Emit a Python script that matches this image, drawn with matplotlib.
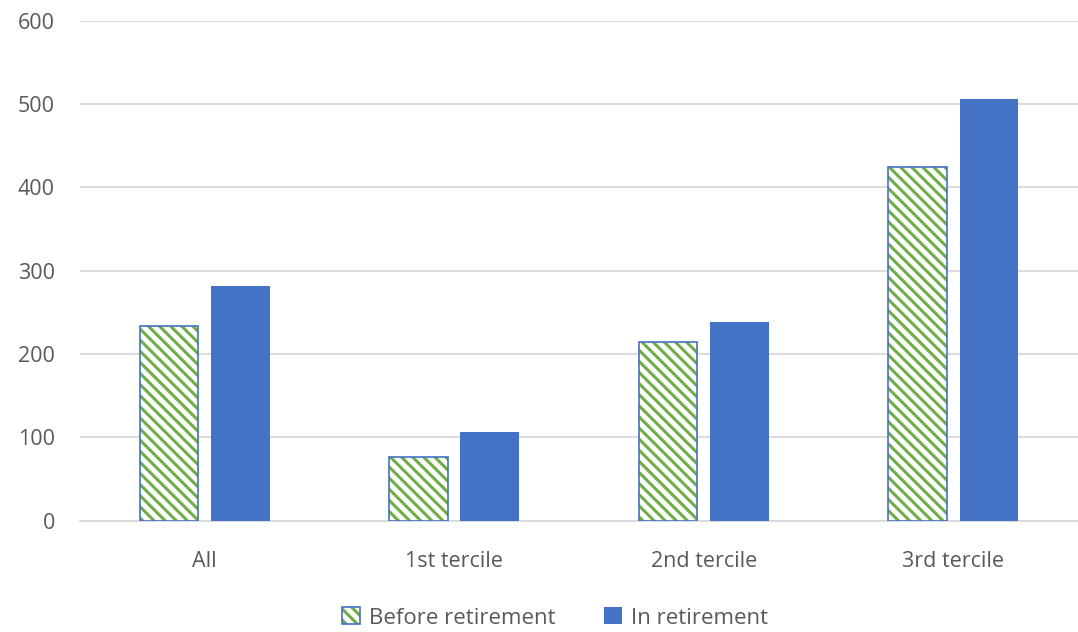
import numpy as np
import matplotlib.pyplot as plt

plt.rcParams['font.family'] = ['Open Sans', 'DejaVu Sans']
plt.rcParams['hatch.linewidth'] = 2.2

categories = ["All", "1st tercile", "2nd tercile", "3rd tercile"]
before = [234, 76, 214, 424]
inret = [282, 107, 238, 506]

GREEN = '#70AD47'
BLUE = '#4472C4'
TXT = '#595959'

fig = plt.figure(figsize=(10.78, 6.32), dpi=100)
ax = fig.add_axes([0.074, 0.176, 0.926, 0.791])

x = np.arange(len(categories))
w = 0.235
off = 0.143

#hatched bars: green hatch, then blue outline on top
hb = ax.bar(x - off, before, w, color='white', edgecolor=GREEN,
            hatch='\\\\\\', linewidth=0, zorder=3)
ob = ax.bar(x - off, before, w, fill=False, edgecolor=BLUE,
            linewidth=1.2, zorder=4)
ib = ax.bar(x + off, inret, w, color=BLUE, zorder=3)

ax.set_xlim(-0.5, 3.5)
ax.set_ylim(0, 600)
ax.set_yticks(range(0, 601, 100))
ax.set_xticks(x)
ax.set_xticklabels(categories)
ax.yaxis.grid(True, color='#D9D9D9', linewidth=1.3, zorder=0)
ax.set_axisbelow(True)
for s in ['top', 'right', 'left']:
    ax.spines[s].set_visible(False)
ax.spines['bottom'].set_color('#D9D9D9')
ax.spines['bottom'].set_linewidth(1.3)
ax.tick_params(length=0, labelsize=15.5, colors=TXT)
ax.tick_params(axis='x', pad=22)
ax.tick_params(axis='y', pad=18)

fig.legend([(hb[0], ob[0]), ib[0]], ["Before retirement", "In retirement"],
           loc='center', bbox_to_anchor=(0.515, 0.022), ncol=2, frameon=False,
           fontsize=16, labelcolor=TXT, handlelength=0.8, handleheight=0.8,
           handletextpad=0.4, columnspacing=2.2)

fig.savefig('out.png', dpi=100)
